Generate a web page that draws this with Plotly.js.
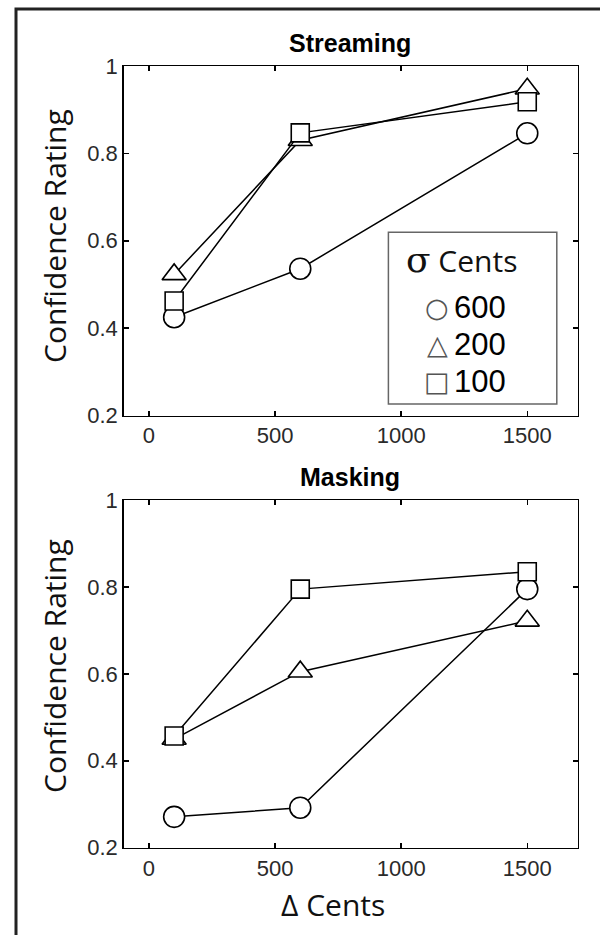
<!DOCTYPE html>
<html>
<head>
<meta charset="utf-8">
<script src="https://cdn.plot.ly/plotly-3.0.1.min.js"></script>
<style>html,body{margin:0;padding:0;background:#fff;}#chart{width:600px;height:935px;}</style>
</head>
<body>
<div id="chart"></div>
<script>
// ---- data ----
const deltaCents = [100, 600, 1500];
const xTicks = [0, 500, 1000, 1500];
const yTicks = [0.2, 0.4, 0.6, 0.8, 1];
const yTickText = ['0.2', '0.4', '0.6', '0.8', '1'];
const sigmaLabels = ['600', '200', '100'];
const streaming600 = [0.425, 0.536, 0.846];
const streaming200 = [0.523, 0.830, 0.948];
const streaming100 = [0.462, 0.847, 0.918];
const masking600 = [0.271, 0.292, 0.795];
const masking200 = [0.450, 0.605, 0.722];
const masking100 = [0.457, 0.795, 0.835];

const W = 600, H = 935;
const px = p => p / W;
const py = p => 1 - p / H;

const symbolNames = ['circle', 'triangle-up', 'square'];
const sizes = [21, 21, 18];

function mk(y, i, xa, ya) {
  return {
    x: deltaCents, y: y, xaxis: xa, yaxis: ya,
    mode: 'lines+markers', type: 'scatter', showlegend: false,
    line: {color: '#000', width: 1.5},
    marker: {symbol: symbolNames[i], size: sizes[i], color: '#fff',
             line: {color: '#000', width: 1.6}},
    hoverinfo: 'skip'
  };
}

const data = [
  mk(streaming600, 0, 'x', 'y'), mk(streaming200, 1, 'x', 'y'), mk(streaming100, 2, 'x', 'y'),
  mk(masking600, 0, 'x2', 'y2'), mk(masking200, 1, 'x2', 'y2'), mk(masking100, 2, 'x2', 'y2')
];

const tickFont = {family: 'Liberation Sans, Arial, sans-serif', size: 22, color: '#2a2a2a'};
function xax(anchor) {
  return {domain: [px(123.7), px(577.7)], range: [-100, 1700], anchor: anchor,
    tickvals: xTicks, ticktext: xTicks.map(String), ticks: 'inside', ticklen: 5, tickwidth: 1.5, tickcolor: '#000',
    showline: true, linecolor: '#000', linewidth: 1.5, mirror: 'ticks', showgrid: false, zeroline: false,
    tickfont: tickFont, fixedrange: true};
}
function yax(anchor, top, bottom) {
  return {domain: [py(bottom), py(top)], range: [0.2, 1], anchor: anchor,
    tickvals: yTicks, ticktext: yTickText, ticks: 'inside', ticklen: 5, tickwidth: 1.5, tickcolor: '#000',
    showline: true, linecolor: '#000', linewidth: 1.5, mirror: 'ticks', showgrid: false, zeroline: false,
    tickfont: tickFont, fixedrange: true};
}

const labelFont = {family: 'Open Sans, sans-serif', size: 30, color: '#111'};
const titleFont = {family: 'Liberation Sans, Arial, sans-serif', size: 25, color: '#000'};

const annotations = [
  {text: '<b>Streaming</b>', x: px(350), y: py(43), xref: 'paper', yref: 'paper', showarrow: false, font: titleFont, xanchor: 'center', yanchor: 'middle'},
  {text: '<b>Masking</b>', x: px(350), y: py(477), xref: 'paper', yref: 'paper', showarrow: false, font: titleFont, xanchor: 'center', yanchor: 'middle'},
  {text: 'Confidence Rating', x: px(54), y: py(236), xref: 'paper', yref: 'paper', showarrow: false, font: labelFont, textangle: -90, xanchor: 'center', yanchor: 'middle'},
  {text: 'Confidence Rating', x: px(54), y: py(666), xref: 'paper', yref: 'paper', showarrow: false, font: labelFont, textangle: -90, xanchor: 'center', yanchor: 'middle'},
  {text: 'Δ Cents', x: px(333), y: py(904), xref: 'paper', yref: 'paper', showarrow: false, font: labelFont, xanchor: 'center', yanchor: 'middle'},
  {text: '<span style="font-family:DejaVu Serif,serif;font-size:36px">σ</span> Cents', x: px(462), y: py(260), xref: 'paper', yref: 'paper', showarrow: false, font: labelFont, xanchor: 'center', yanchor: 'middle'}
];
const glyphs = ['○', '△', '□'];
const rowY = [308, 344, 381];
for (let i = 0; i < 3; i++) {
  annotations.push({text: glyphs[i], x: px(437), y: py(rowY[i]), xref: 'paper', yref: 'paper', showarrow: false,
    font: {family: 'DejaVu Sans', size: 27, color: '#555'}, xanchor: 'center', yanchor: 'middle'});
  annotations.push({text: sigmaLabels[i], x: px(452), y: py(rowY[i]), xref: 'paper', yref: 'paper', showarrow: false,
    font: {family: 'Liberation Sans, Arial, sans-serif', size: 31, color: '#000'}, xanchor: 'left', yanchor: 'middle'});
}

const layout = {
  width: W, height: H,
  margin: {l: 0, r: 0, t: 0, b: 0, pad: 0},
  paper_bgcolor: '#fff', plot_bgcolor: 'rgba(0,0,0,0)',
  showlegend: false,
  xaxis: xax('y'), yaxis: yax('x', 66, 415.5),
  xaxis2: xax('y2'), yaxis2: yax('x2', 500, 847.7),
  annotations: annotations,
  shapes: [
    {type: 'rect', xref: 'paper', yref: 'paper', x0: px(16), x1: 1.05, y0: -0.05, y1: py(9), line: {color: '#222', width: 3}, layer: 'above'},
    {type: 'rect', xref: 'paper', yref: 'paper', x0: px(388.4), x1: px(556.8), y0: py(404), y1: py(232.3), line: {color: '#666', width: 1.5}, fillcolor: '#fff', layer: 'above'}
  ]
};

Plotly.newPlot('chart', data, layout, {staticPlot: true, displayModeBar: false});
</script>
</body>
</html>
